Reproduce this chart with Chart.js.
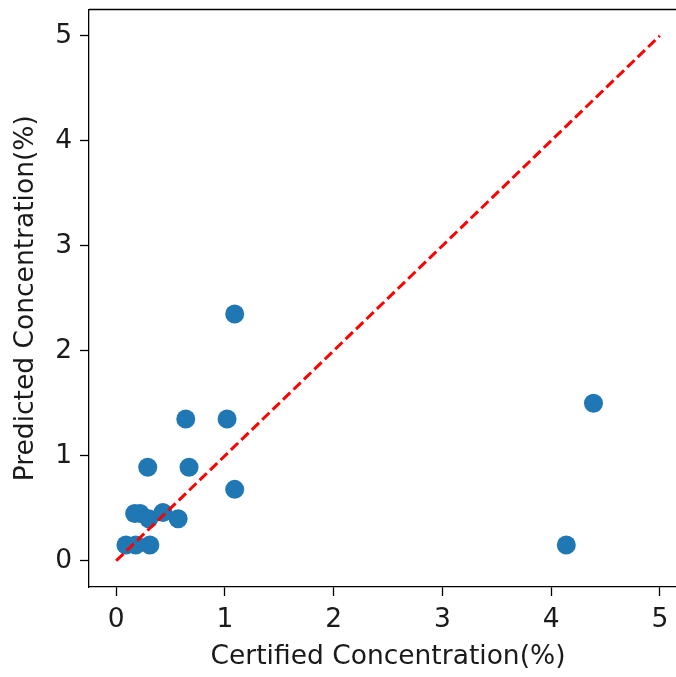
<!DOCTYPE html>
<html>
<head>
<meta charset="utf-8">
<script src="https://cdn.jsdelivr.net/npm/chart.js@4/dist/chart.umd.min.js"></script>
<style>
  html, body { margin: 0; padding: 0; background: #fff; overflow: hidden; }
  #clip { width: 676px; height: 677px; overflow: hidden; }
</style>
</head>
<body>
<div id="clip"><canvas id="chartCanvas"></canvas></div>
<script>
// certified vs. predicted concentration (%) per sample
const certified = [0.64, 1.02, 0.29, 0.67, 1.09, 1.09, 4.39, 4.14,
                   0.17, 0.22, 0.30, 0.43, 0.57, 0.09, 0.18, 0.31];
const predicted = [1.35, 1.35, 0.89, 0.89, 0.68, 2.35, 1.50, 0.15,
                   0.45, 0.45, 0.40, 0.46, 0.40, 0.15, 0.15, 0.15];

// y = x reference line
const idealLine = [[0, 0], [5, 5]];

const tickValues = [0, 1, 2, 3, 4, 5];
const AXIS_MIN = -0.25;
const AXIS_MAX = 5.25;

const FONT_FAMILY = '"DejaVu Sans", sans-serif';
const FONT_SIZE   = 26.5;
const TEXT_COLOR  = '#1a1a1a';

// top edge of the axes frame (left and bottom are the scale borders,
// the right edge lies beyond the page)
var frameTop = {
   id: 'frameTop',
   afterDatasetsDraw: function (chart) {
      var area = chart.chartArea;
      var ctx = chart.ctx;
      ctx.save();
      ctx.strokeStyle = '#000';
      ctx.lineWidth = 1.3;
      ctx.beginPath();
      ctx.moveTo(area.left, area.top);
      ctx.lineTo(area.right, area.top);
      ctx.stroke();
      ctx.restore();
   }
};

var setTicks = function setTicks(scale) {
   scale.ticks = tickValues.map(v => ({ value: v }));
};

var axisOptions = function axisOptions(title, tickPadding, titlePadding) {
   return {
      type: 'linear',
      min: AXIS_MIN,
      max: AXIS_MAX,
      afterBuildTicks: setTicks,
      border: { display: true, color: '#000', width: 1.3 },
      grid: {
         drawOnChartArea: false,
         drawTicks: true,
         tickLength: 9,
         tickWidth: 1.3,
         tickColor: '#000'
      },
      ticks: {
         color: TEXT_COLOR,
         padding: tickPadding,
         font: { family: FONT_FAMILY, size: FONT_SIZE }
      },
      title: {
         display: true,
         text: title,
         color: TEXT_COLOR,
         padding: titlePadding,
         font: { family: FONT_FAMILY, size: FONT_SIZE }
      }
   };
};

var xAxis = axisOptions('Certified Concentration(%)', 8, { top: 0, bottom: 4 });
xAxis.afterFit = function (scale) {
   scale.height = 90;
};

var yAxis = axisOptions('Predicted Concentration(%)', 8, { top: 10, bottom: 0 });
yAxis.afterFit = function (scale) {
   scale.width = 89;
   scale.paddingTop = 0;
   scale.paddingBottom = 0;
};

var chartConfig = {
   type: 'scatter',
   data: {
      datasets: [{
         type: 'line',
         data: idealLine.map(p => ({ x: p[0], y: p[1] })),
         borderColor: '#ff0000',
         borderWidth: 3,
         borderDash: [10, 4.5],
         pointRadius: 0,
         fill: false,
         order: 0
      }, {
         data: certified.map((c, i) => ({ x: c, y: predicted[i] })),
         backgroundColor: '#1f77b4',
         borderWidth: 0,
         pointRadius: 9.5,
         order: 1
      }]
   },
   options: {
      responsive: false,
      animation: false,
      layout: { padding: { top: 8, left: 0, right: 13, bottom: 0 } },
      scales: { x: xAxis, y: yAxis },
      plugins: {
         legend: { display: false },
         tooltip: { enabled: false }
      }
   },
   plugins: [frameTop]
};

// the canvas is wider than the page so the frame is cut off at the right
var canvas = document.getElementById('chartCanvas');
canvas.width = 700;
canvas.height = 677;
new Chart(canvas, chartConfig);
</script>
</body>
</html>
